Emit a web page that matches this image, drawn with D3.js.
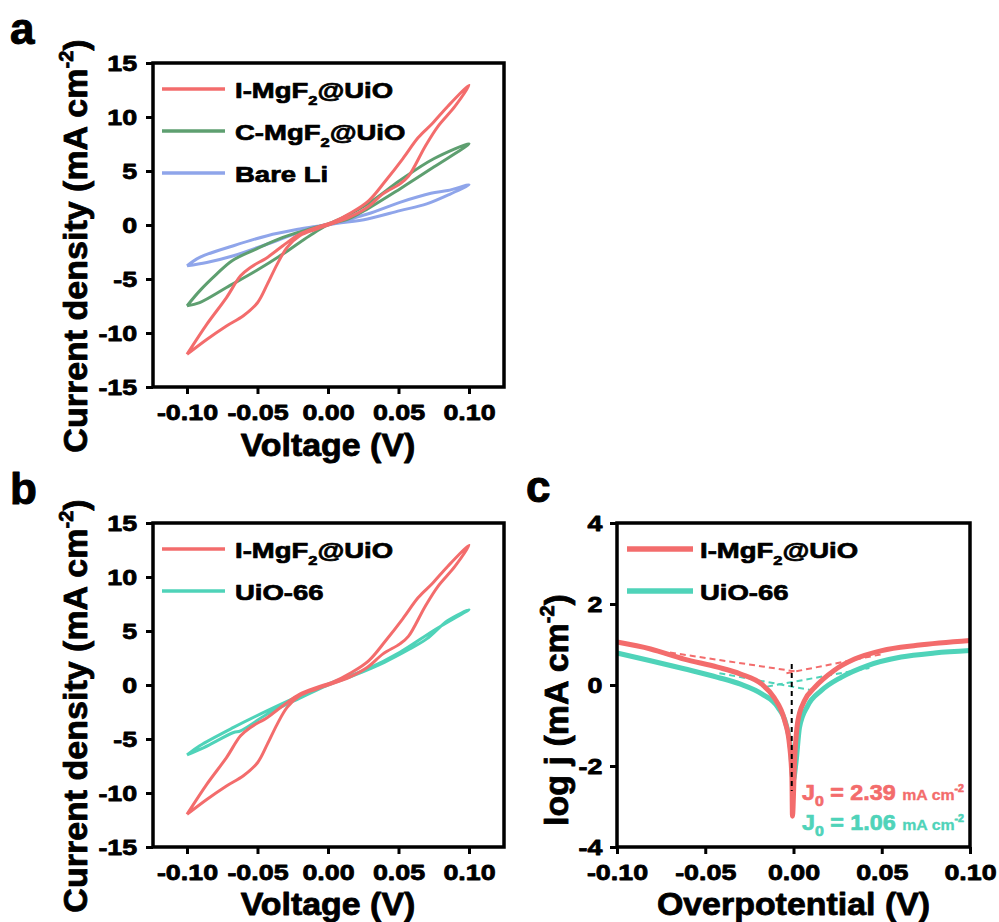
<!DOCTYPE html>
<html>
<head>
<meta charset="utf-8">
<script src="https://cdn.jsdelivr.net/npm/d3@7"></script>
<style>
  body { margin: 0; background: #fff; }
  text { font-family: "Liberation Sans", Arial, sans-serif; font-weight: bold; }
</style>
</head>
<body>
<script>
// ---- data ----
// CV loops (voltage V, current density mA cm-2), traced as one closed loop each
var iMgV = [-0.100,-0.086,-0.072,-0.060,-0.050,-0.043,-0.036,-0.029,-0.020,-0.008,0.000,0.015,0.028,0.039,0.051,0.057,0.069,0.078,0.090,0.100,0.085,0.074,0.064,0.053,0.041,0.029,0.017,0.003,-0.008,-0.020,-0.032,-0.043,-0.055,-0.062,-0.072,-0.086,-0.100];
var iMgJ = [-11.98,-10.6,-9.35,-8.4,-7.2,-5.48,-3.62,-2.07,-0.99,-0.37,0,0.71,1.64,2.88,3.81,4.5,7.3,9.14,10.98,12.94,11.0,9.4,8.1,6.13,4.12,2.26,1.18,0.25,-0.22,-0.84,-1.92,-3.0,-3.93,-4.7,-6.72,-9.2,-11.98];

var cMgV = [-0.100,-0.091,-0.072,-0.051,-0.032,-0.013,0.000,0.015,0.028,0.051,0.075,0.100,0.075,0.051,0.028,0.003,-0.013,-0.032,-0.051,-0.068,-0.079,-0.091,-0.100];
var cMgJ = [-7.49,-7.18,-5.79,-4.24,-2.69,-0.99,0,0.6,1.49,3.34,5.36,7.52,6.13,4.12,1.95,0.25,-0.37,-1.15,-2.23,-3.3,-4.55,-6.1,-7.49];

var bareV = [-0.100,-0.086,-0.067,-0.043,-0.020,0.000,0.028,0.051,0.070,0.087,0.100,0.085,0.073,0.051,0.028,0.003,-0.020,-0.043,-0.067,-0.091,-0.100];
var bareJ = [-3.78,-3.47,-2.85,-1.76,-0.68,0,0.56,1.33,1.95,2.88,3.72,3.19,2.94,2.1,1.02,0.15,-0.37,-0.99,-1.92,-3.0,-3.78];

var uioV = [-0.100,-0.088,-0.067,-0.062,-0.043,-0.020,0.000,0.018,0.040,0.056,0.070,0.085,0.100,0.075,0.051,0.028,0.003,-0.020,-0.043,-0.067,-0.091,-0.100];
var uioJ = [-6.47,-5.79,-4.4,-4.24,-2.69,-1.21,0,0.87,2.1,3.19,4.27,5.98,6.97,5.05,3.03,1.49,0.25,-0.99,-2.38,-3.93,-5.63,-6.47];

// Tafel curves (overpotential V, log j)
var tafRedEta = [-0.100,-0.081,-0.062,-0.043,-0.030,-0.018,-0.011,-0.005,-0.0023,-0.0009,-0.0006,0.0006,0.0025,0.0062,0.012,0.023,0.0346,0.050,0.070,0.100];
var tafRedLog = [1.06,0.89,0.64,0.44,0.27,0.02,-0.31,-0.88,-1.46,-2.29,-3.24,-1.88,-0.88,-0.39,-0.06,0.36,0.64,0.85,0.98,1.10];
var tafUioEta = [-0.100,-0.081,-0.062,-0.043,-0.030,-0.018,-0.0089,-0.0042,-0.0017,-0.0002,0.0015,0.0034,0.0081,0.0157,0.027,0.042,0.061,0.080,0.100];
var tafUioLog = [0.79,0.60,0.40,0.19,0.02,-0.22,-0.55,-0.97,-1.55,-2.37,-1.88,-1.05,-0.51,-0.14,0.19,0.48,0.69,0.79,0.85];

// Tafel fit lines (dashed), each [eta0, eta1] / [log0, log1]
var fitRedLEta = [-0.070, 0.002],  fitRedLLog = [0.80, 0.33];
var fitRedREta = [-0.004, 0.050],  fitRedRLog = [0.29, 0.76];
var fitUioLEta = [-0.042, 0.0093], fitUioLLog = [0.29, -0.12];
var fitUioREta = [-0.015, 0.043],  fitUioRLog = [-0.04, 0.42];
var zeroEta = [-0.001, -0.001],    zeroLog = [0.52, -2.62];

// ticks & labels
var cvXTicks = [-0.10, -0.05, 0.00, 0.05, 0.10];
var cvXLabels = ["-0.10", "-0.05", "0.00", "0.05", "0.10"];
var cvYTicks = [-15, -10, -5, 0, 5, 10, 15];
var cvYLabels = ["-15", "-10", "-5", "0", "5", "10", "15"];
var tafYTicks = [-4, -2, 0, 2, 4];
var tafYLabels = ["-4", "-2", "0", "2", "4"];

var legendA = ["I-MgF2@UiO", "C-MgF2@UiO", "Bare Li"];
var legendB = ["I-MgF2@UiO", "UiO-66"];
var j0Labels = ["2.39", "1.06"];

var RED = "#f36c6c", GREEN = "#5e9f70", BLUE = "#8fa5ea", TEAL = "#4fd3b9";

var svg = d3.select("body").append("svg").attr("width", 999).attr("height", 922);

// heavier look, like the scanned figure
function heavy(sel, color, w) {
  return sel.attr("stroke", color).attr("stroke-width", w).attr("stroke-linejoin", "round");
}

// text with the F2 subscript
function richText(g, str, size) {
  var t = g.append("text").attr("font-size", size).attr("fill", "#000");
  heavy(t, "#000", 0.7);
  var parts = str.split("F2@");
  if (parts.length === 2) {
    t.append("tspan").text(parts[0] + "F");
    t.append("tspan").attr("font-size", size * 0.6).attr("dy", size * 0.3).text("2");
    t.append("tspan").attr("dy", -size * 0.3).text("@" + parts[1]);
  } else {
    t.text(str);
  }
  return t;
}

function drawAxes(x, y, xTicks, xLabels, yTicks, yLabels, bottom, left, yPad) {
  var gx = svg.append("g").attr("transform", "translate(0," + bottom + ")")
    .call(d3.axisBottom(x).tickValues(xTicks).tickFormat(function(d, i) { return xLabels[i]; })
      .tickSize(7).tickSizeOuter(0).tickPadding(10.5));
  var gy = svg.append("g").attr("transform", "translate(" + left + ",0)")
    .call(d3.axisLeft(y).tickValues(yTicks).tickFormat(function(d, i) { return yLabels[i]; })
      .tickSize(7).tickSizeOuter(0).tickPadding(yPad));
  [gx, gy].forEach(function(g) {
    g.select(".domain").remove();
    g.attr("font-size", 22).attr("font-family", null);
    g.selectAll("line").attr("stroke", "#000").attr("stroke-width", 3);
    heavy(g.selectAll("text"), "#000", 0.8).attr("fill", "#000").attr("transform", "scale(1.22,1)");
  });
}

function frame(x0, y0, x1, y1) {
  svg.append("rect").attr("x", x0).attr("y", y0).attr("width", x1 - x0).attr("height", y1 - y0)
    .attr("fill", "none").attr("stroke", "#000").attr("stroke-width", 3.5);
}

function yTitle(cx, cy, main) {
  var t = svg.append("text").attr("transform", "translate(" + cx + "," + cy + ") rotate(-90)")
    .attr("text-anchor", "middle").attr("font-size", 34).attr("fill", "#000");
  heavy(t, "#000", 0.8);
  t.append("tspan").text(main + " (mA cm");
  t.append("tspan").attr("font-size", 20).attr("dy", -14).text("-2");
  t.append("tspan").attr("dy", 14).text(")");
}

function xTitle(cx, by, str) {
  var t = svg.append("text").attr("transform", "translate(" + cx + "," + by + ") scale(1.06,1)")
    .attr("text-anchor", "middle").attr("font-size", 32).attr("fill", "#000").text(str);
  heavy(t, "#000", 0.8);
}

function panelLetter(x, y, s) {
  var t = svg.append("text").attr("x", x).attr("y", y).attr("font-size", 44).attr("fill", "#000").text(s);
  heavy(t, "#000", 1);
}

function legend(x0, x1, tx, y0, names, colors, sw) {
  names.forEach(function(n, i) {
    var yy = y0 + i * 42;
    svg.append("line").attr("x1", x0).attr("x2", x1).attr("y1", yy).attr("y2", yy)
      .attr("stroke", colors[i]).attr("stroke-width", sw);
    var g = svg.append("g").attr("transform", "translate(" + tx + "," + (yy + 9) + ") scale(1.25,1)");
    richText(g, n, 22);
  });
}

function pairs(xs, ys) {
  return xs.map(function(v, k) { return [v, ys[k]]; });
}

// ---- CV panels (a, b) ----
function cvPanel(top, bottom, series, seriesColors, names, legendColors, letter) {
  var x = d3.scaleLinear().domain([-0.1, 0.1]).range([187, 469]);
  var y = d3.scaleLinear().domain([-15, 15]).range([bottom, top]);
  drawAxes(x, y, cvXTicks, cvXLabels, cvYTicks, cvYLabels, bottom, 153, 6);
  var line = d3.line().curve(d3.curveCatmullRom.alpha(0.5))
    .x(function(d) { return x(d[0]); }).y(function(d) { return y(d[1]); });
  series.forEach(function(s, i) {
    svg.append("path").attr("d", line(pairs(s[0], s[1]))).attr("fill", "none")
      .attr("stroke", seriesColors[i]).attr("stroke-width", 3).attr("stroke-linejoin", "round");
  });
  frame(153, top, 504, bottom);
  legend(162, 225, 235, top + 26, names, legendColors, 3.5);
  yTitle(87, (top + bottom) / 2 + 21, "Current density");
  xTitle(328, Math.min(bottom + 69, 915), "Voltage (V)");
  panelLetter(10, top - 19, letter);
}

cvPanel(63, 387, [[bareV, bareJ], [cMgV, cMgJ], [iMgV, iMgJ]], [BLUE, GREEN, RED],
        legendA, [RED, GREEN, BLUE], "a");
cvPanel(523, 847, [[uioV, uioJ], [iMgV, iMgJ]], [TEAL, RED],
        legendB, [RED, TEAL], "b");

// ---- Tafel panel (c) ----
(function() {
  var top = 523, bottom = 847;
  var x = d3.scaleLinear().domain([-0.1, 0.1]).range([617, 970]);
  var y = d3.scaleLinear().domain([-4, 4]).range([bottom, top]);
  drawAxes(x, y, cvXTicks, cvXLabels, tafYTicks, tafYLabels, bottom, 617, 5);

  var dash = d3.line().x(function(d) { return x(d[0]); }).y(function(d) { return y(d[1]); });
  [[fitRedLEta, fitRedLLog, RED], [fitRedREta, fitRedRLog, RED],
   [fitUioLEta, fitUioLLog, TEAL], [fitUioREta, fitUioRLog, TEAL]].forEach(function(f) {
    svg.append("path").attr("d", dash(pairs(f[0], f[1]))).attr("fill", "none")
      .attr("stroke", f[2]).attr("stroke-width", 2).attr("stroke-dasharray", "6,4");
  });

  var curve = d3.line().curve(d3.curveMonotoneX)
    .x(function(d) { return x(d[0]); }).y(function(d) { return y(d[1]); });
  svg.append("path").attr("d", curve(pairs(tafUioEta, tafUioLog))).attr("fill", "none")
    .attr("stroke", TEAL).attr("stroke-width", 5);
  svg.append("path").attr("d", curve(pairs(tafRedEta, tafRedLog))).attr("fill", "none")
    .attr("stroke", RED).attr("stroke-width", 5);

  svg.append("path").attr("d", dash(pairs(zeroEta, zeroLog))).attr("fill", "none")
    .attr("stroke", "#000").attr("stroke-width", 2).attr("stroke-dasharray", "5,4");

  frame(617, top, 970, bottom);
  legend(627, 693, 700, 549, legendB, [RED, TEAL], 5.5);

  // exchange current density labels
  [[RED, 800], [TEAL, 830]].forEach(function(c, i) {
    var g = svg.append("g").attr("transform", "translate(802," + c[1] + ") scale(1.06,1)");
    var t = g.append("text").attr("font-size", 22).attr("fill", c[0]);
    heavy(t, c[0], 0.7);
    t.append("tspan").text("J");
    t.append("tspan").attr("font-size", 15).attr("dy", 6).text("0");
    t.append("tspan").attr("dy", -6).text(" = " + j0Labels[i] + " ");
    t.append("tspan").attr("font-size", 15).attr("stroke-width", 0.3).text("mA cm");
    t.append("tspan").attr("font-size", 10).attr("dy", -8).text("-2");
  });

  yTitle(568, 710, "log j");
  xTitle(793.5, 915, "Overpotential (V)");
  panelLetter(526, 502, "c");
})();
</script>
</body>
</html>
